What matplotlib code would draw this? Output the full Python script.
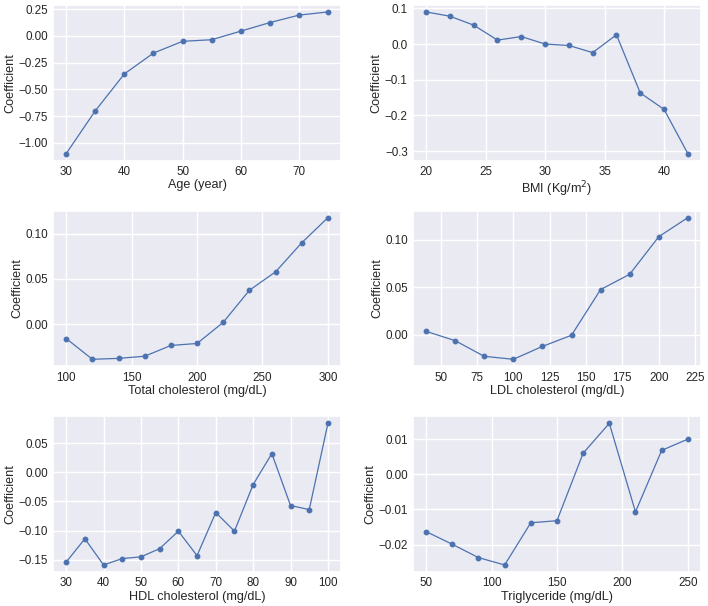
import matplotlib
matplotlib.use("Agg")

import matplotlib.pyplot as plt
import seaborn as sns

# ---------------------------------------------------------------------------
# Data
# ---------------------------------------------------------------------------

age_x = [30, 35, 40, 45, 50, 55, 60, 65, 70, 75]
age_y = [-1.10, -0.70, -0.355, -0.16, -0.05, -0.035, 0.045, 0.125, 0.195, 0.225]

bmi_x = [20, 22, 24, 26, 28, 30, 32, 34, 36, 38, 40, 42]
bmi_y = [0.090, 0.078, 0.053, 0.011, 0.021, 0.000, -0.004, -0.024,
         0.026, -0.137, -0.183, -0.307]

tc_x = [100, 120, 140, 160, 180, 200, 220, 240, 260, 280, 300]
tc_y = [-0.016, -0.039, -0.038, -0.0356, -0.0237, -0.0215, 0.0019,
        0.0374, 0.0578, 0.090, 0.1178]

ldl_x = [40, 60, 80, 100, 120, 140, 160, 180, 200, 220]
ldl_y = [0.0038, -0.006, -0.0224, -0.0255, -0.012, -0.0003, 0.0476,
         0.0636, 0.103, 0.123]

hdl_x = [30, 35, 40, 45, 50, 55, 60, 65, 70, 75, 80, 85, 90, 95, 100]
hdl_y = [-0.154, -0.114, -0.159, -0.148, -0.145, -0.131, -0.101, -0.143,
         -0.069, -0.101, -0.021, 0.032, -0.057, -0.064, 0.084]

tg_x = [50, 70, 90, 110, 130, 150, 170, 190, 210, 230, 250]
tg_y = [-0.0163, -0.0199, -0.0237, -0.0258, -0.0138, -0.0132, 0.0060,
        0.0145, -0.0107, 0.0068, 0.0100]

panels = [
    (age_x, age_y, "Age (year)"),
    (bmi_x, bmi_y, "BMI (Kg/m$^2$)"),
    (tc_x, tc_y, "Total cholesterol (mg/dL)"),
    (ldl_x, ldl_y, "LDL cholesterol (mg/dL)"),
    (hdl_x, hdl_y, "HDL cholesterol (mg/dL)"),
    (tg_x, tg_y, "Triglyceride (mg/dL)"),
]

# ---------------------------------------------------------------------------
# Plot
# ---------------------------------------------------------------------------

sns.set_theme(style="darkgrid")
plt.rcParams["font.family"] = ["Liberation Sans", "DejaVu Sans"]
plt.rcParams["axes.labelsize"] = 9.1
plt.rcParams["xtick.labelsize"] = 8.4
plt.rcParams["ytick.labelsize"] = 8.4

fig, axes = plt.subplots(3, 2, figsize=(7.08, 6.06), dpi=100)
fig.subplots_adjust(left=0.075, right=0.99, top=0.992, bottom=0.056,
                    wspace=0.25, hspace=0.32)

for ax, (x, y, xlabel) in zip(axes.flat, panels):
    ax.plot(x, y, color="#4C72B0", linewidth=0.9, marker="o", markersize=3.2)
    ax.set_xlabel(xlabel, labelpad=1)
    ax.set_ylabel("Coefficient", labelpad=1.5)
    ax.tick_params(length=0, pad=3.8)

fig.savefig("out.png", dpi=100)
